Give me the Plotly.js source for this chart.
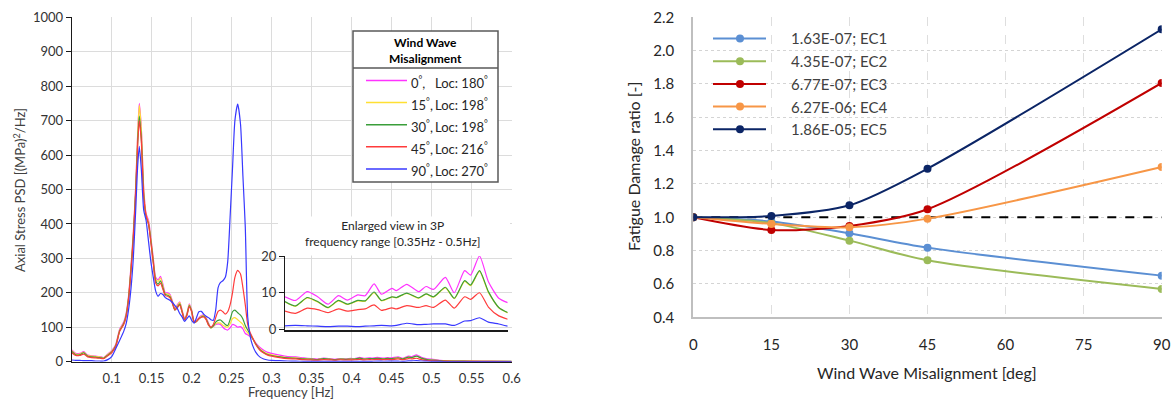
<!DOCTYPE html>
<html><head><meta charset="utf-8">
<script src="https://cdn.plot.ly/plotly-3.0.1.min.js"></script>
<style>html,body{margin:0;padding:0;background:#fff}#chart{width:1174px;height:401px}</style>
</head><body><div id="chart"></div>
<script>
// ---------------- Left chart data (PSD) ----------------
const misalignDeg = [0, 15, 30, 45, 90];
const locDeg = [180, 198, 198, 216, 270];

const freqLow = [0.05,0.055,0.06,0.065,0.07,0.075,0.08,0.085,0.09,0.095,
  0.1,0.105,0.11,0.115,0.118,0.121,0.124,0.127,0.13,0.1325,
  0.1345,0.137,0.14,0.143,0.146,0.149,0.152,0.155,0.158,0.161,
  0.164,0.167,0.17,0.173,0.176,0.179,0.182,0.185,0.188,0.191,
  0.194,0.197,0.2,0.203,0.206,0.209,0.212,0.215,0.218,0.221,
  0.224,0.227,0.23,0.233,0.236,0.239,0.242,0.245,0.248,0.251,
  0.254,0.2575,0.261,0.264,0.267,0.27,0.273,0.276,0.28,0.285,
  0.29,0.295,0.3,0.31,0.32,0.33,0.34];

const psd0Low = [34,24,24,29,19,17,16,15,12,22,
  32,50,95,115,140,190,275,375,510,665,
  750,680,505,430,410,360,300,245,238,248,
  225,200,200,195,175,155,165,174,150,126,
  140,168,150,118,120,128,134,136,128,112,
  99,102,108,110,108,100,94,92,98,108,
  106,100,102,95,82,78,73,68,55,42,
  33,27,24,19,15,14,11];
const psd15Low = [32,22,22,27,18,16,15,14,11,21,
  30,48,92,112,137,187,270,370,505,660,
  745,675,500,425,405,355,295,240,233,243,
  220,197,197,192,172,152,162,172,148,124,
  138,166,148,116,118,126,132,134,126,110,
  98,103,110,113,112,106,102,100,110,125,
  128,122,115,108,92,84,76,68,52,38,
  29,23,20,15,12,11,9];
const psd30Low = [30,20,20,26,16,14,13,12,10,19,
  28,46,90,110,134,183,265,362,495,640,
  713,650,485,420,400,350,290,235,225,235,
  215,195,193,188,170,150,158,168,145,122,
  136,163,146,115,117,125,130,132,124,108,
  98,104,115,120,121,115,108,105,122,145,
  150,142,135,124,105,92,80,68,52,36,
  27,21,18,14,11,10,8];
const psd45Low = [26,18,18,22,14,12,11,10,9,17,
  26,44,88,108,130,180,260,357,490,630,
  700,640,480,425,400,345,285,228,220,228,
  210,192,190,185,168,150,156,165,144,122,
  134,160,144,115,117,124,129,130,122,106,
  100,108,128,146,150,145,138,145,165,200,
  245,265,255,215,165,108,85,70,50,34,
  25,19,16,12,9,8,6];
const psd90Low = [5,4,4,3,3,3,2,2,2,6,
  15,38,62,88,110,150,210,300,440,570,
  625,560,440,410,350,290,245,205,190,198,
  195,186,182,178,172,163,155,140,130,117,
  125,133,120,112,128,145,146,138,132,128,
  122,120,150,215,230,235,245,290,420,560,
  700,748,690,540,390,130,75,48,28,14,
  8,5,4,3,2,1.5,1.2];

// 3P range (0.35 - 0.5 Hz), also shown enlarged in the inset
const freq3P = [0.350,0.357,0.365,0.372,0.379,0.386,0.392,0.399,0.404,0.410,
  0.415,0.422,0.425,0.432,0.440,0.445,0.450,0.458,0.464,0.471,
  0.475,0.481,0.487,0.494,0.500];
const psd0_3P = [8.9,7.9,10.3,8.9,6.9,9.2,8.0,9.4,9.2,12.4,9.6,11.2,10.6,12.3,10.3,11.7,10.9,14.2,10.0,16.0,14.8,20.0,13.0,8.5,7.3];
const psd15_3P = [7.5,6.3,8.6,7.5,5.9,7.8,6.8,7.8,7.7,10.0,7.8,8.8,8.6,9.8,8.5,9.6,8.8,11.3,8.4,13.1,11.9,15.8,10.1,5.9,4.5];
const psd30_3P = [7.6,6.4,8.7,7.6,6.0,7.9,6.9,7.9,7.8,10.2,7.9,8.9,8.7,9.9,8.6,9.7,8.9,11.5,8.5,13.3,12.1,16.0,10.3,6.0,4.6];
const psd45_3P = [5.0,4.4,5.8,5.4,4.6,5.6,5.0,5.4,5.6,6.7,5.2,5.9,5.6,6.5,6.0,6.5,6.0,8.0,5.8,8.9,8.2,10.0,6.1,3.7,2.8];
const psd90_3P = [1.0,1.1,1.0,0.9,0.8,0.9,0.9,0.8,0.9,1.0,1.1,1.0,1.1,1.7,1.3,1.4,1.5,1.5,1.1,2.3,2.4,3.2,2.0,1.5,0.9];

const freqHigh = [0.51,0.52,0.53,0.55,0.575,0.6];
const psd0High = [4,2.5,2,1.5,1.2,1];
const psd15High = [3.5,2.2,1.8,1.4,1.1,0.9];
const psd30High = [3,2,1.6,1.3,1,0.8];
const psd45High = [2,1.5,1.2,1,0.8,0.6];
const psd90High = [0.7,0.5,0.4,0.3,0.3,0.2];

const freqTickVals = [0.1,0.15,0.2,0.25,0.3,0.35,0.4,0.45,0.5,0.55,0.6];
const freqTickText = ['0.1','0.15','0.2','0.25','0.3','0.35','0.4','0.45','0.5','0.55','0.6'];
const insetTickVals = [0,10,20];

// ---------------- Right chart data (damage ratio) ----------------
const misalignX = [0, 15, 30, 45, 90];
const caseNames = ['EC1','EC2','EC3','EC4','EC5'];
const baseDamage = ['1.63E-07','4.35E-07','6.77E-07','6.27E-06','1.86E-05'];
const ratioEC1 = [1.0, 0.975, 0.904, 0.818, 0.650];
const ratioEC2 = [1.0, 0.965, 0.860, 0.742, 0.570];
const ratioEC3 = [1.0, 0.924, 0.948, 1.048, 1.806];
const ratioEC4 = [1.0, 0.960, 0.940, 0.992, 1.302];
const ratioEC5 = [1.0, 1.008, 1.072, 1.292, 2.128];
const ratioTickVals = [0.4,0.6,0.8,1.0,1.2,1.4,1.6,1.8,2.0,2.2];
const misalignTickVals = [0,15,30,45,60,75,90];

// ---------------- Build figure ----------------
const W = 1174, H = 401;
const px = v => v / W;
const py = v => 1 - v / H;
const FONT = "Lato, 'Open Sans', sans-serif";

const psdColors = ['#ff33ff','#ffe033','#3a9e3a','#ff3b3b','#3838ff'];
const lowAll = [psd0Low, psd15Low, psd30Low, psd45Low, psd90Low];
const midAll = [psd0_3P, psd15_3P, psd30_3P, psd45_3P, psd90_3P];
const highAll = [psd0High, psd15High, psd30High, psd45High, psd90High];
const freqAll = freqLow.concat(freq3P, freqHigh);

const traces = [];
misalignDeg.forEach((m, i) => {
  traces.push({
    type: 'scatter', mode: 'lines', name: m + '°, Loc: ' + locDeg[i] + '°',
    x: freqAll, y: lowAll[i].concat(midAll[i], highAll[i]),
    xaxis: 'x', yaxis: 'y', showlegend: false,
    line: {color: psdColors[i], width: 1.2, shape: 'spline', smoothing: 0.6}
  });
});
misalignDeg.forEach((m, i) => {
  traces.push({
    type: 'scatter', mode: 'lines', name: m + '° (3P)',
    x: freq3P, y: midAll[i], xaxis: 'x2', yaxis: 'y2', showlegend: false,
    line: {color: psdColors[i], width: 1.2, shape: 'spline', smoothing: 0.6}
  });
});

const ecColors = ['#5b8fd3','#9bbb59','#c00000','#f79646','#0b2566'];
const ratioAll = [ratioEC1, ratioEC2, ratioEC3, ratioEC4, ratioEC5];
caseNames.forEach((c, i) => {
  traces.push({
    type: 'scatter', mode: 'lines+markers', name: baseDamage[i] + '; ' + c,
    x: misalignX, y: ratioAll[i], xaxis: 'x3', yaxis: 'y3', showlegend: false,
    line: {color: ecColors[i], width: 2, shape: 'spline', smoothing: 0.8},
    marker: {color: ecColors[i], size: 8}
  });
});

const shapes = [];
const annotations = [];
function note(x, y, text, font, extra) {
  return Object.assign({xref: 'paper', yref: 'paper', x: px(x), y: py(y), xanchor: 'center', yanchor: 'middle',
    showarrow: false, text: text, font: font}, extra || {});
}

// reference line at ratio = 1
shapes.push({type: 'line', xref: 'x3', yref: 'y3', x0: 0, x1: 90, y0: 1, y1: 1,
  layer: 'between', line: {color: '#000', width: 2, dash: 'dash'}});

// white backing for the inset title
shapes.push({type: 'rect', xref: 'paper', yref: 'paper', x0: px(278), x1: px(510), y0: py(255.5), y1: py(216.5),
  fillcolor: '#fff', line: {width: 0}, layer: 'above'});

// left legend box
shapes.push({type: 'rect', xref: 'paper', yref: 'paper', x0: px(353), x1: px(498), y0: py(182), y1: py(31),
  fillcolor: '#fff', line: {color: '#595959', width: 1.5}, layer: 'above'});
shapes.push({type: 'line', xref: 'paper', yref: 'paper', x0: px(353), x1: px(498), y0: py(68), y1: py(68),
  line: {color: '#595959', width: 1.5}, layer: 'above'});
annotations.push(note(425.5, 50, '<b>Wind Wave<br>Misalignment</b>', {family: FONT, size: 12, color: '#000'}, {align: 'center'}));
misalignDeg.forEach((m, i) => {
  const yy = 80.5 + i * 22.1;
  shapes.push({type: 'line', xref: 'paper', yref: 'paper', x0: px(366), x1: px(407), y0: py(yy), y1: py(yy),
    line: {color: psdColors[i], width: 1.5}, layer: 'above'});
  annotations.push(note(409, yy + 2, m + '<sup>°</sup>,', {family: FONT, size: 13, color: '#262626'}, {xanchor: 'left'}));
  annotations.push(note(433, yy + 2, 'Loc: ' + locDeg[i] + '<sup>°</sup>', {family: FONT, size: 13, color: '#262626'}, {xanchor: 'left'}));
});

// inset title
annotations.push(note(392, 234, 'Enlarged view in 3P<br>frequency range [0.35Hz - 0.5Hz]',
  {family: FONT, size: 12, color: '#262626'}, {align: 'center'}));

// right legend
caseNames.forEach((c, i) => {
  const yy = 38.5 + i * 22.7;
  shapes.push({type: 'line', xref: 'paper', yref: 'paper', x0: px(713), x1: px(766), y0: py(yy), y1: py(yy),
    line: {color: ecColors[i], width: 2}, layer: 'above'});
  shapes.push({type: 'circle', xref: 'paper', yref: 'paper', xsizemode: 'pixel', ysizemode: 'pixel',
    xanchor: px(740), yanchor: py(yy), x0: -4, x1: 4, y0: -4, y1: 4,
    fillcolor: ecColors[i], line: {color: ecColors[i], width: 0}, layer: 'above'});
  annotations.push(note(789, yy, baseDamage[i] + '; ' + c, {family: FONT, size: 15, color: '#404040'}, {xanchor: 'left'}));
});

// axis titles
annotations.push(note(19, 190, 'Axial Stress PSD [(MPa)<sup>2</sup>/Hz]', {family: FONT, size: 13, color: '#404040'}, {textangle: -90}));
annotations.push(note(291, 392, 'Frequency [Hz]', {family: FONT, size: 13, color: '#404040'}));
annotations.push(note(634, 167, 'Fatigue Damage ratio [-]', {family: FONT, size: 16, color: '#262626'}, {textangle: -90}));
annotations.push(note(927, 372, 'Wind Wave Misalignment [deg]', {family: FONT, size: 16, color: '#262626'}));

const layout = {
  width: W, height: H,
  margin: {l: 0, r: 0, t: 0, b: 0, pad: 0},
  paper_bgcolor: '#ffffff', plot_bgcolor: 'rgba(0,0,0,0)',
  font: {family: FONT, color: '#404040'},
  showlegend: false,
  xaxis: {domain: [px(71.7), px(511.7)], range: [0.05, 0.6], anchor: 'y',
    tickmode: 'array', tickvals: freqTickVals, ticktext: freqTickText,
    showgrid: true, gridcolor: '#dcdcdc', gridwidth: 1, zeroline: false,
    showline: true, linecolor: '#1a1a1a', linewidth: 1.5, ticks: '',
    ticklabelstandoff: 4, tickfont: {family: FONT, size: 13, color: '#333333'}},
  yaxis: {domain: [py(361.7), py(17.3)], range: [0, 1000], anchor: 'x', tick0: 0, dtick: 100,
    showgrid: true, gridcolor: '#dcdcdc', gridwidth: 1, zeroline: false,
    showline: true, linecolor: '#1a1a1a', linewidth: 1, ticks: 'outside', ticklen: 5, tickcolor: '#1a1a1a',
    tickfont: {family: FONT, size: 13, color: '#333333'}},
  xaxis2: {domain: [px(285), px(507.7)], range: [0.35, 0.5], anchor: 'y2',
    showticklabels: false, showgrid: false, zeroline: false,
    showline: true, linecolor: '#1a1a1a', linewidth: 1.5, ticks: ''},
  yaxis2: {domain: [py(330), py(256)], range: [-0.14, 20], anchor: 'x2',
    tickmode: 'array', tickvals: insetTickVals, showgrid: false, zeroline: false,
    showline: true, linecolor: '#1a1a1a', linewidth: 1, ticks: 'outside', ticklen: 5, tickcolor: '#1a1a1a',
    tickfont: {family: FONT, size: 13, color: '#333333'}},
  xaxis3: {domain: [px(693.3), px(1161.7)], range: [0, 90], anchor: 'y3',
    tickmode: 'array', tickvals: misalignTickVals,
    showgrid: true, gridcolor: '#dedede', griddash: 'dash', gridwidth: 1, zeroline: false,
    showline: true, linecolor: '#bfbfbf', linewidth: 2, ticks: '', ticklabelstandoff: 13,
    tickfont: {family: FONT, size: 15, color: '#262626'}},
  yaxis3: {domain: [py(317.3), py(17.3)], range: [0.4, 2.2], anchor: 'x3',
    tickmode: 'array', tickvals: ratioTickVals, tickformat: '.1f',
    showgrid: true, gridcolor: '#d4d4d4', griddash: 'dot', gridwidth: 1, zeroline: false,
    showline: true, linecolor: '#bfbfbf', linewidth: 2, ticks: '', ticklabelstandoff: 14,
    tickfont: {family: FONT, size: 15, color: '#262626'}},
  shapes: shapes,
  annotations: annotations
};

Plotly.newPlot('chart', traces, layout, {staticPlot: true, displayModeBar: false});
</script>
</body></html>
